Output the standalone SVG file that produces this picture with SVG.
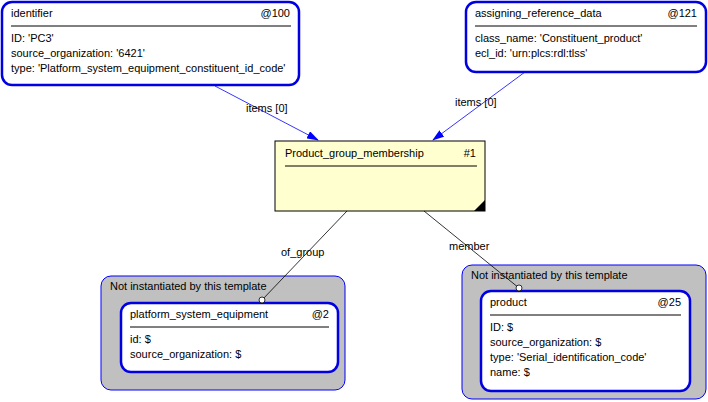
<svg xmlns="http://www.w3.org/2000/svg" width="708" height="402" viewBox="0 0 708 402">
<style>
text{font-family:"Liberation Sans",Arial,sans-serif;font-size:11px;fill:#000}
.node{fill:#fff;stroke:#0000e0;stroke-width:2.5}
.grp{fill:#c0c0c0;stroke:#0000ff;stroke-width:1}
.sep{stroke:#000;stroke-width:1}
.conn{stroke:#000;stroke-width:0.8;fill:none}
.ref{stroke:#0000ff;stroke-width:0.8;fill:none}
</style>
<defs>
<marker id="ah" markerWidth="12" markerHeight="8" refX="11" refY="4" orient="auto" markerUnits="userSpaceOnUse">
<path d="M0,0 L12,4 L0,8 Z" fill="#0000ff"/>
</marker>
</defs>
<rect width="708" height="402" fill="#fff"/>
<g id="identifier">
<rect class="node" x="2" y="2" width="297" height="83" rx="10"/>
<text x="11" y="17">identifier</text><text x="290" y="17" text-anchor="end">@100</text>
<line class="sep" x1="11" y1="26" x2="291" y2="26"/>
<text x="11" y="42">ID: 'PC3'</text>
<text x="11" y="57">source_organization: '6421'</text>
<text x="11" y="72">type: 'Platform_system_equipment_constituent_id_code'</text>
</g>
<g id="assigning_reference_data">
<rect class="node" x="466" y="2" width="240" height="70" rx="10"/>
<text x="475" y="17">assigning_reference_data</text><text x="697" y="17" text-anchor="end">@121</text>
<line class="sep" x1="475" y1="26" x2="697" y2="26"/>
<text x="475" y="42">class_name: 'Constituent_product'</text>
<text x="475" y="57">ecl_id: 'urn:plcs:rdl:tlss'</text>
</g>
<g id="Product_group_membership">
<rect x="275" y="141" width="210" height="70" fill="#ffffd0" stroke="#000" stroke-width="1"/>
<path d="M485,211 L485,200 L474,211 Z" fill="#000"/>
<text x="285" y="157">Product_group_membership</text><text x="476" y="157" text-anchor="end">#1</text>
<line class="sep" x1="285" y1="166" x2="477" y2="166"/>
</g>
<g id="group_left">
<rect class="grp" x="101" y="276" width="244" height="114" rx="10"/>
<text x="110" y="290">Not instantiated by this template</text>
</g>
<g id="platform_system_equipment">
<rect class="node" x="121" y="303" width="217" height="69" rx="10"/>
<text x="130" y="318">platform_system_equipment</text><text x="329" y="318" text-anchor="end">@2</text>
<line class="sep" x1="130" y1="327" x2="329" y2="327"/>
<text x="130" y="343">id: $</text>
<text x="130" y="358">source_organization: $</text>
</g>
<g id="group_right">
<rect class="grp" x="462" y="265" width="244" height="134" rx="10"/>
<text x="471" y="279">Not instantiated by this template</text>
</g>
<g id="product">
<rect class="node" x="481" y="291" width="209" height="100" rx="10"/>
<text x="490" y="306">product</text><text x="681" y="306" text-anchor="end">@25</text>
<line class="sep" x1="490" y1="315" x2="681" y2="315"/>
<text x="490" y="331">ID: $</text>
<text x="490" y="346">source_organization: $</text>
<text x="490" y="361">type: 'Serial_identification_code'</text>
<text x="490" y="376">name: $</text>
</g>
<g id="connectors">
<line class="ref" x1="215" y1="86" x2="318" y2="140" marker-end="url(#ah)"/>
<text x="246" y="112">items [0]</text>
<line class="ref" x1="525" y1="72" x2="433" y2="140" marker-end="url(#ah)"/>
<text x="455" y="106">items [0]</text>
<line class="conn" x1="347" y1="211" x2="262" y2="300"/>
<circle cx="262" cy="300" r="3" fill="#fff" stroke="#000" stroke-width="0.8"/>
<text x="281" y="256">of_group</text>
<line class="conn" x1="424" y1="211" x2="519" y2="288"/>
<circle cx="519" cy="288" r="3" fill="#fff" stroke="#000" stroke-width="0.8"/>
<text x="449" y="250">member</text>
</g>
</svg>
